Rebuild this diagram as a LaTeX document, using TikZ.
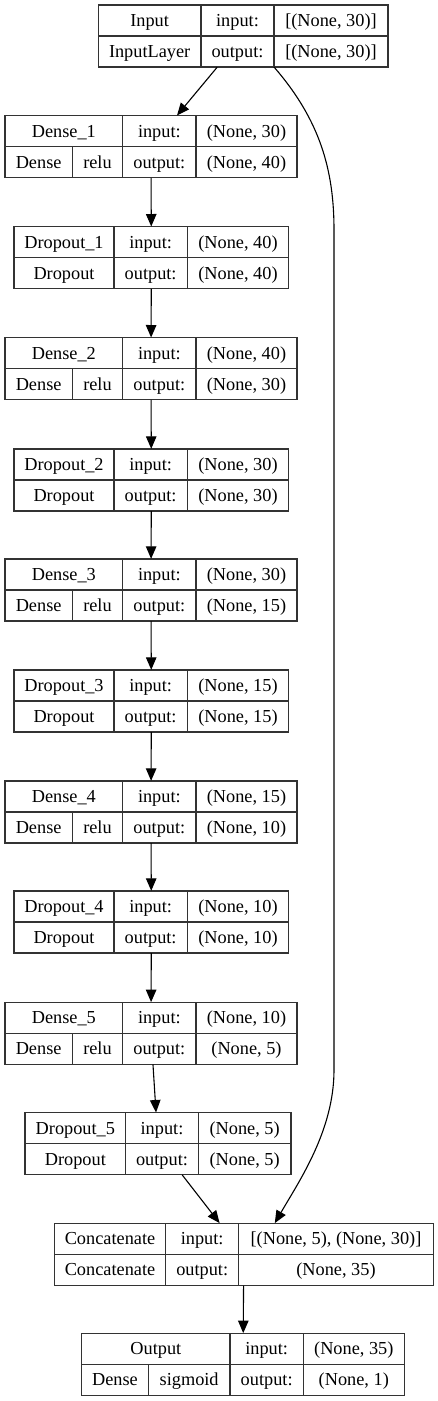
\documentclass[tikz,border=0pt]{standalone}
\usepackage{fontspec}
\setmainfont{Liberation Serif}
\usetikzlibrary{arrows.meta,fit,calc}

\tikzset{
  cell/.style={draw=black!80, line width=1.1pt, anchor=north west,
    inner sep=0pt, outer sep=0pt, minimum height=31pt,
    text height=14.5pt, text depth=2.5pt,
    font=\fontsize{18.3}{22}\selectfont},
  link/.style={-{Triangle[length=12.5pt,width=10.5pt]}, line width=1.1pt}
}

% one layer: name, column edges, top, title, input shape, output shape
\newcommand{\layer}[9]{%
  \node[cell, minimum width={(#3-#2)*1pt}] (#1-t)  at (#2,#6) {#7};
  \node[cell, minimum width={(#4-#3)*1pt}] (#1-il) at (#3,#6) {input:};
  \node[cell, minimum width={(#5-#4)*1pt}] (#1-i)  at (#4,#6) {#8};
  \node[cell, minimum width={(#4-#3)*1pt}] (#1-ol) at (#3,#6+31) {output:};
  \node[cell, minimum width={(#5-#4)*1pt}] (#1-o)  at (#4,#6+31) {#9};
  \node[fit=(#1-t)(#1-o), inner sep=0pt] (#1) {};
}

\begin{document}
\begin{tikzpicture}[x=1pt, y=-1pt]
  \useasboundingbox (0,0) rectangle (437,1401);

  \layer{in}{98.3}{201}{274}{388}{5}{Input}{[(None, 30)]}{[(None, 30)]}
  \node[cell, minimum width=102.7pt] (in-k) at (in-t.south west) {InputLayer};

  \layer{d1}{5}{122.7}{196}{297}{115.7}{Dense\_1}{(None, 30)}{(None, 40)}
  \node[cell, minimum width=67.3pt] (d1-k) at (d1-t.south west) {Dense};
  \node[cell, minimum width=50.4pt] (d1-a) at (d1-k.north east) {relu};

  \layer{do1}{14}{114}{187.3}{288.7}{226.7}{Dropout\_1}{(None, 40)}{(None, 40)}
  \node[cell, minimum width=100pt] (do1-k) at (do1-t.south west) {Dropout};

  \layer{d2}{5}{122.7}{196}{297}{337.7}{Dense\_2}{(None, 40)}{(None, 30)}
  \node[cell, minimum width=67.3pt] (d2-k) at (d2-t.south west) {Dense};
  \node[cell, minimum width=50.4pt] (d2-a) at (d2-k.north east) {relu};

  \layer{do2}{14}{114}{187.3}{288.7}{449}{Dropout\_2}{(None, 30)}{(None, 30)}
  \node[cell, minimum width=100pt] (do2-k) at (do2-t.south west) {Dropout};

  \layer{d3}{5}{122.7}{196}{297}{559}{Dense\_3}{(None, 30)}{(None, 15)}
  \node[cell, minimum width=67.3pt] (d3-k) at (d3-t.south west) {Dense};
  \node[cell, minimum width=50.4pt] (d3-a) at (d3-k.north east) {relu};

  \layer{do3}{14}{114}{187.3}{288.7}{670}{Dropout\_3}{(None, 15)}{(None, 15)}
  \node[cell, minimum width=100pt] (do3-k) at (do3-t.south west) {Dropout};

  \layer{d4}{5}{122.7}{196}{297}{781}{Dense\_4}{(None, 15)}{(None, 10)}
  \node[cell, minimum width=67.3pt] (d4-k) at (d4-t.south west) {Dense};
  \node[cell, minimum width=50.4pt] (d4-a) at (d4-k.north east) {relu};

  \layer{do4}{14}{114}{187.3}{288.7}{891}{Dropout\_4}{(None, 10)}{(None, 10)}
  \node[cell, minimum width=100pt] (do4-k) at (do4-t.south west) {Dropout};

  \layer{d5}{5}{122.7}{196}{297}{1002.3}{Dense\_5}{(None, 10)}{(None, 5)}
  \node[cell, minimum width=67.3pt] (d5-k) at (d5-t.south west) {Dense};
  \node[cell, minimum width=50.4pt] (d5-a) at (d5-k.north east) {relu};

  \layer{do5}{25}{125.7}{198.3}{291}{1112.7}{Dropout\_5}{(None, 5)}{(None, 5)}
  \node[cell, minimum width=100.7pt] (do5-k) at (do5-t.south west) {Dropout};

  \layer{cc}{54.3}{165.7}{238.7}{433.3}{1223.3}{Concatenate}{[(None, 5), (None, 30)]}{(None, 35)}
  \node[cell, minimum width=111.4pt] (cc-k) at (cc-t.south west) {Concatenate};

  \layer{outp}{81.7}{230}{303.3}{404.3}{1333.3}{Output}{(None, 35)}{(None, 1)}
  \node[cell, minimum width=66.6pt] (outp-k) at (outp-t.south west) {Dense};
  \node[cell, minimum width=81.7pt] (outp-a) at (outp-k.north east) {sigmoid};

  % main chain
  \draw[link] (in) -- (d1);
  \draw[link] (d1) -- (do1);
  \draw[link] (do1) -- (d2);
  \draw[link] (d2) -- (do2);
  \draw[link] (do2) -- (d3);
  \draw[link] (d3) -- (do3);
  \draw[link] (do3) -- (d4);
  \draw[link] (d4) -- (do4);
  \draw[link] (do4) -- (d5);
  \draw[link] (d5) -- (do5);
  \draw[link] (do5) -- (cc);
  \draw[link] (cc) -- (outp);

  % skip connection
  \coordinate (skiptop) at (334,230);
  \coordinate (skipbot) at (334,1070);
  \coordinate (skipend) at ($(cc.north)+(31,0)$);
  \draw[link] (in-ol.south east) .. controls +(46,53) and +(0,-60) .. (skiptop)
    -- (skipbot) .. controls +(0,60) and +(25,-43) .. (skipend);
\end{tikzpicture}
\end{document}
